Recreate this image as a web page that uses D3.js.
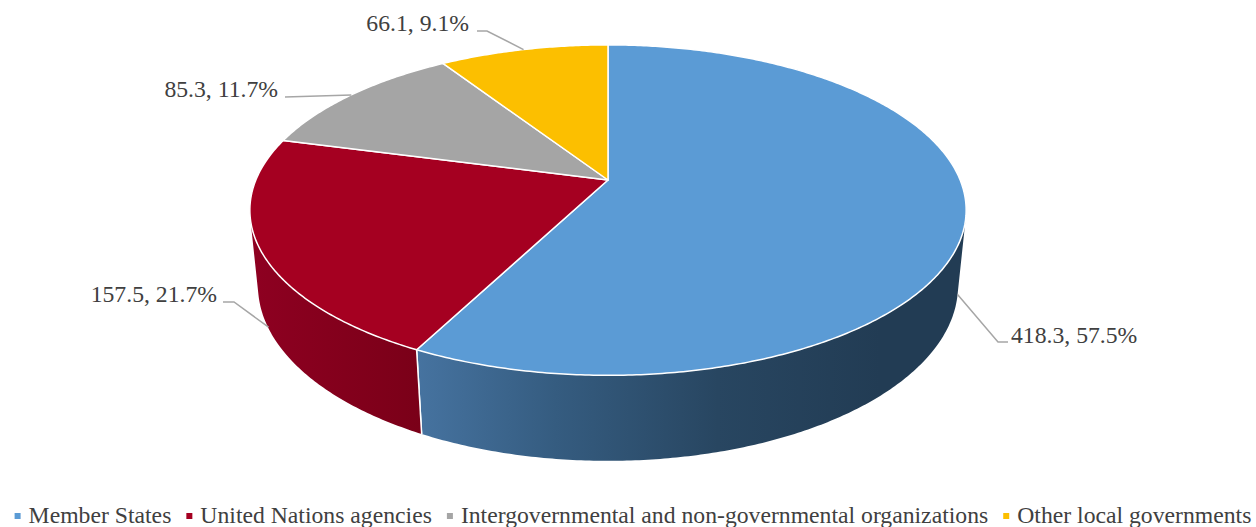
<!DOCTYPE html>
<html>
<head>
<meta charset="utf-8">
<script src="https://cdn.jsdelivr.net/npm/d3@7"></script>
<style>
  html, body { margin: 0; padding: 0; background: #fff; }
  #chart { width: 1256px; height: 527px; overflow: hidden; }
</style>
</head>
<body>
<div id="chart"></div>
<script>
const width = 1256
const height = 527

// data
const categories = ["Member States", "United Nations agencies", "Intergovernmental and non-governmental organizations", "Other local governments"]
const values = [418.3, 157.5, 85.3, 66.1]
const percents = ["57.5%", "21.7%", "11.7%", "9.1%"]
const colors = ["#5b9bd5", "#a50021", "#a5a5a5", "#fcbf00"]

// label text positions (anchor x, baseline) and elbow points of leader lines
const labelLayout = [
  {x: 1011, y: 343, anchor: "start", elbow: [[998, 342], [1008, 342]]},
  {x: 217, y: 302, anchor: "end", elbow: [[234, 302], [223, 302]]},
  {x: 278, y: 97, anchor: "end", elbow: [[285, 97]]},
  {x: 469, y: 31, anchor: "end", elbow: [[487, 31], [477, 31]]}
]

const fontSize = 23.7
const fontFamily = "'Liberation Serif', 'DejaVu Serif', 'Times New Roman', Times, serif"

// 3d projection of a unit disc seen from above/front with perspective
const cx = 608, cy = 180
const tilt = Math.asin(0.4536)
const sn = Math.sin(tilt), cs = Math.cos(tilt)
const D = 4.89, F = 1722, thick = 0.243

function project(theta, r, depth) {
  const a = r * Math.sin(theta)
  const b = -r * Math.cos(theta)
  const Y = b * sn + depth * cs
  const Z = D - b * cs + depth * sn
  return [cx + F * a / Z, cy + F * Y / Z]
}

// side is visible where outward normal faces the camera
const camB = D * cs
const visLo = Math.acos(-1 / camB)
const visHi = 2 * Math.PI - visLo

const svg = d3.select("#chart")
  .append("svg")
  .attr("width", width)
  .attr("height", height)
  .style("font-family", fontFamily)

const pie = d3.pie().sort(null).value(d => d)
const arcs = pie(values)

const line = d3.line()

function arcPoints(t0, t1, depth) {
  const n = Math.max(2, Math.ceil((t1 - t0) / 0.01))
  return d3.range(n + 1).map(i => project(t0 + (t1 - t0) * i / n, 1, depth))
}

const defs = svg.append("defs")
// side shading, from left to right on screen
const sideStops = [
  [["0%", "#4673a0"], ["30%", "#355c80"], ["65%", "#284661"], ["100%", "#223c54"]],
  [["0%", "#8e0021"], ["100%", "#7a0018"]],
  [["0%", "#7c7c7c"], ["100%", "#6a6a6a"]],
  [["0%", "#bf9000"], ["100%", "#a07800"]]
]

// side walls
const sides = svg.append("g")
arcs.forEach((d, i) => {
  const t0 = Math.max(d.startAngle, visLo)
  const t1 = Math.min(d.endAngle, visHi)
  if (t1 <= t0) return
  const top = arcPoints(t0, t1, 0)
  const bottom = arcPoints(t0, t1, thick).reverse()
  const xs = top.concat(bottom).map(p => p[0])
  const grad = defs.append("linearGradient")
    .attr("id", "side" + i)
    .attr("gradientUnits", "userSpaceOnUse")
    .attr("x1", d3.min(xs)).attr("x2", i === 0 ? 880 : d3.max(xs))
    .attr("y1", 0).attr("y2", 0)
  sideStops[i].forEach(s => grad.append("stop").attr("offset", s[0]).attr("stop-color", s[1]))
  sides.append("path")
    .attr("d", line(top.concat(bottom)) + "Z")
    .attr("fill", `url(#side${i})`)
  // white seam at slice edges on the side
  ;[d.startAngle, d.endAngle].forEach(t => {
    if (t > visLo && t < visHi) {
      sides.append("path")
        .attr("d", line([project(t, 1, 0), project(t, 1, thick)]))
        .attr("stroke", "#fff")
        .attr("stroke-width", 1.5)
    }
  })
})

// top faces
const tops = svg.append("g")
arcs.forEach((d, i) => {
  const pts = [project(0, 0, 0)].concat(arcPoints(d.startAngle, d.endAngle, 0))
  tops.append("path")
    .attr("d", line(pts) + "Z")
    .attr("fill", colors[i])
    .attr("stroke", "#fff")
    .attr("stroke-width", 1.5)
    .attr("stroke-linejoin", "round")
})

// labels with leader lines
const labels = svg.append("g")
arcs.forEach((d, i) => {
  const mid = (d.startAngle + d.endAngle) / 2
  const front = -Math.cos(mid) > 0
  const anchorPt = project(mid, 1, front ? thick * 0.98 : 0)
  const L = labelLayout[i]
  labels.append("path")
    .attr("d", line([anchorPt].concat(L.elbow)))
    .attr("fill", "none")
    .attr("stroke", "#a6a6a6")
    .attr("stroke-width", 1.5)
  labels.append("text")
    .attr("x", L.x)
    .attr("y", L.y)
    .attr("text-anchor", L.anchor)
    .attr("font-size", fontSize)
    .attr("fill", "#404040")
    .text(d3.format(".1f")(values[i]) + ", " + percents[i])
})

// legend
const legend = svg.append("g")
const items = legend.selectAll("g")
  .data(categories)
  .enter()
  .append("g")

items.append("rect")
  .attr("width", 6)
  .attr("height", 6)
  .attr("y", 513)
  .attr("fill", (d, i) => colors[i])

items.append("text")
  .attr("y", 523)
  .attr("font-size", fontSize)
  .attr("fill", "#404040")
  .text(d => d)

let xPos = 0
const starts = []
items.each(function() {
  const w = d3.select(this).select("text").node().getComputedTextLength()
  starts.push(xPos)
  xPos += 14 + w + 15
})
const total = xPos - 15
const offset = 633 - total / 2
items.each(function(d, i) {
  const g = d3.select(this)
  g.select("rect").attr("x", offset + starts[i])
  g.select("text").attr("x", offset + starts[i] + 14)
})
</script>
</body>
</html>
